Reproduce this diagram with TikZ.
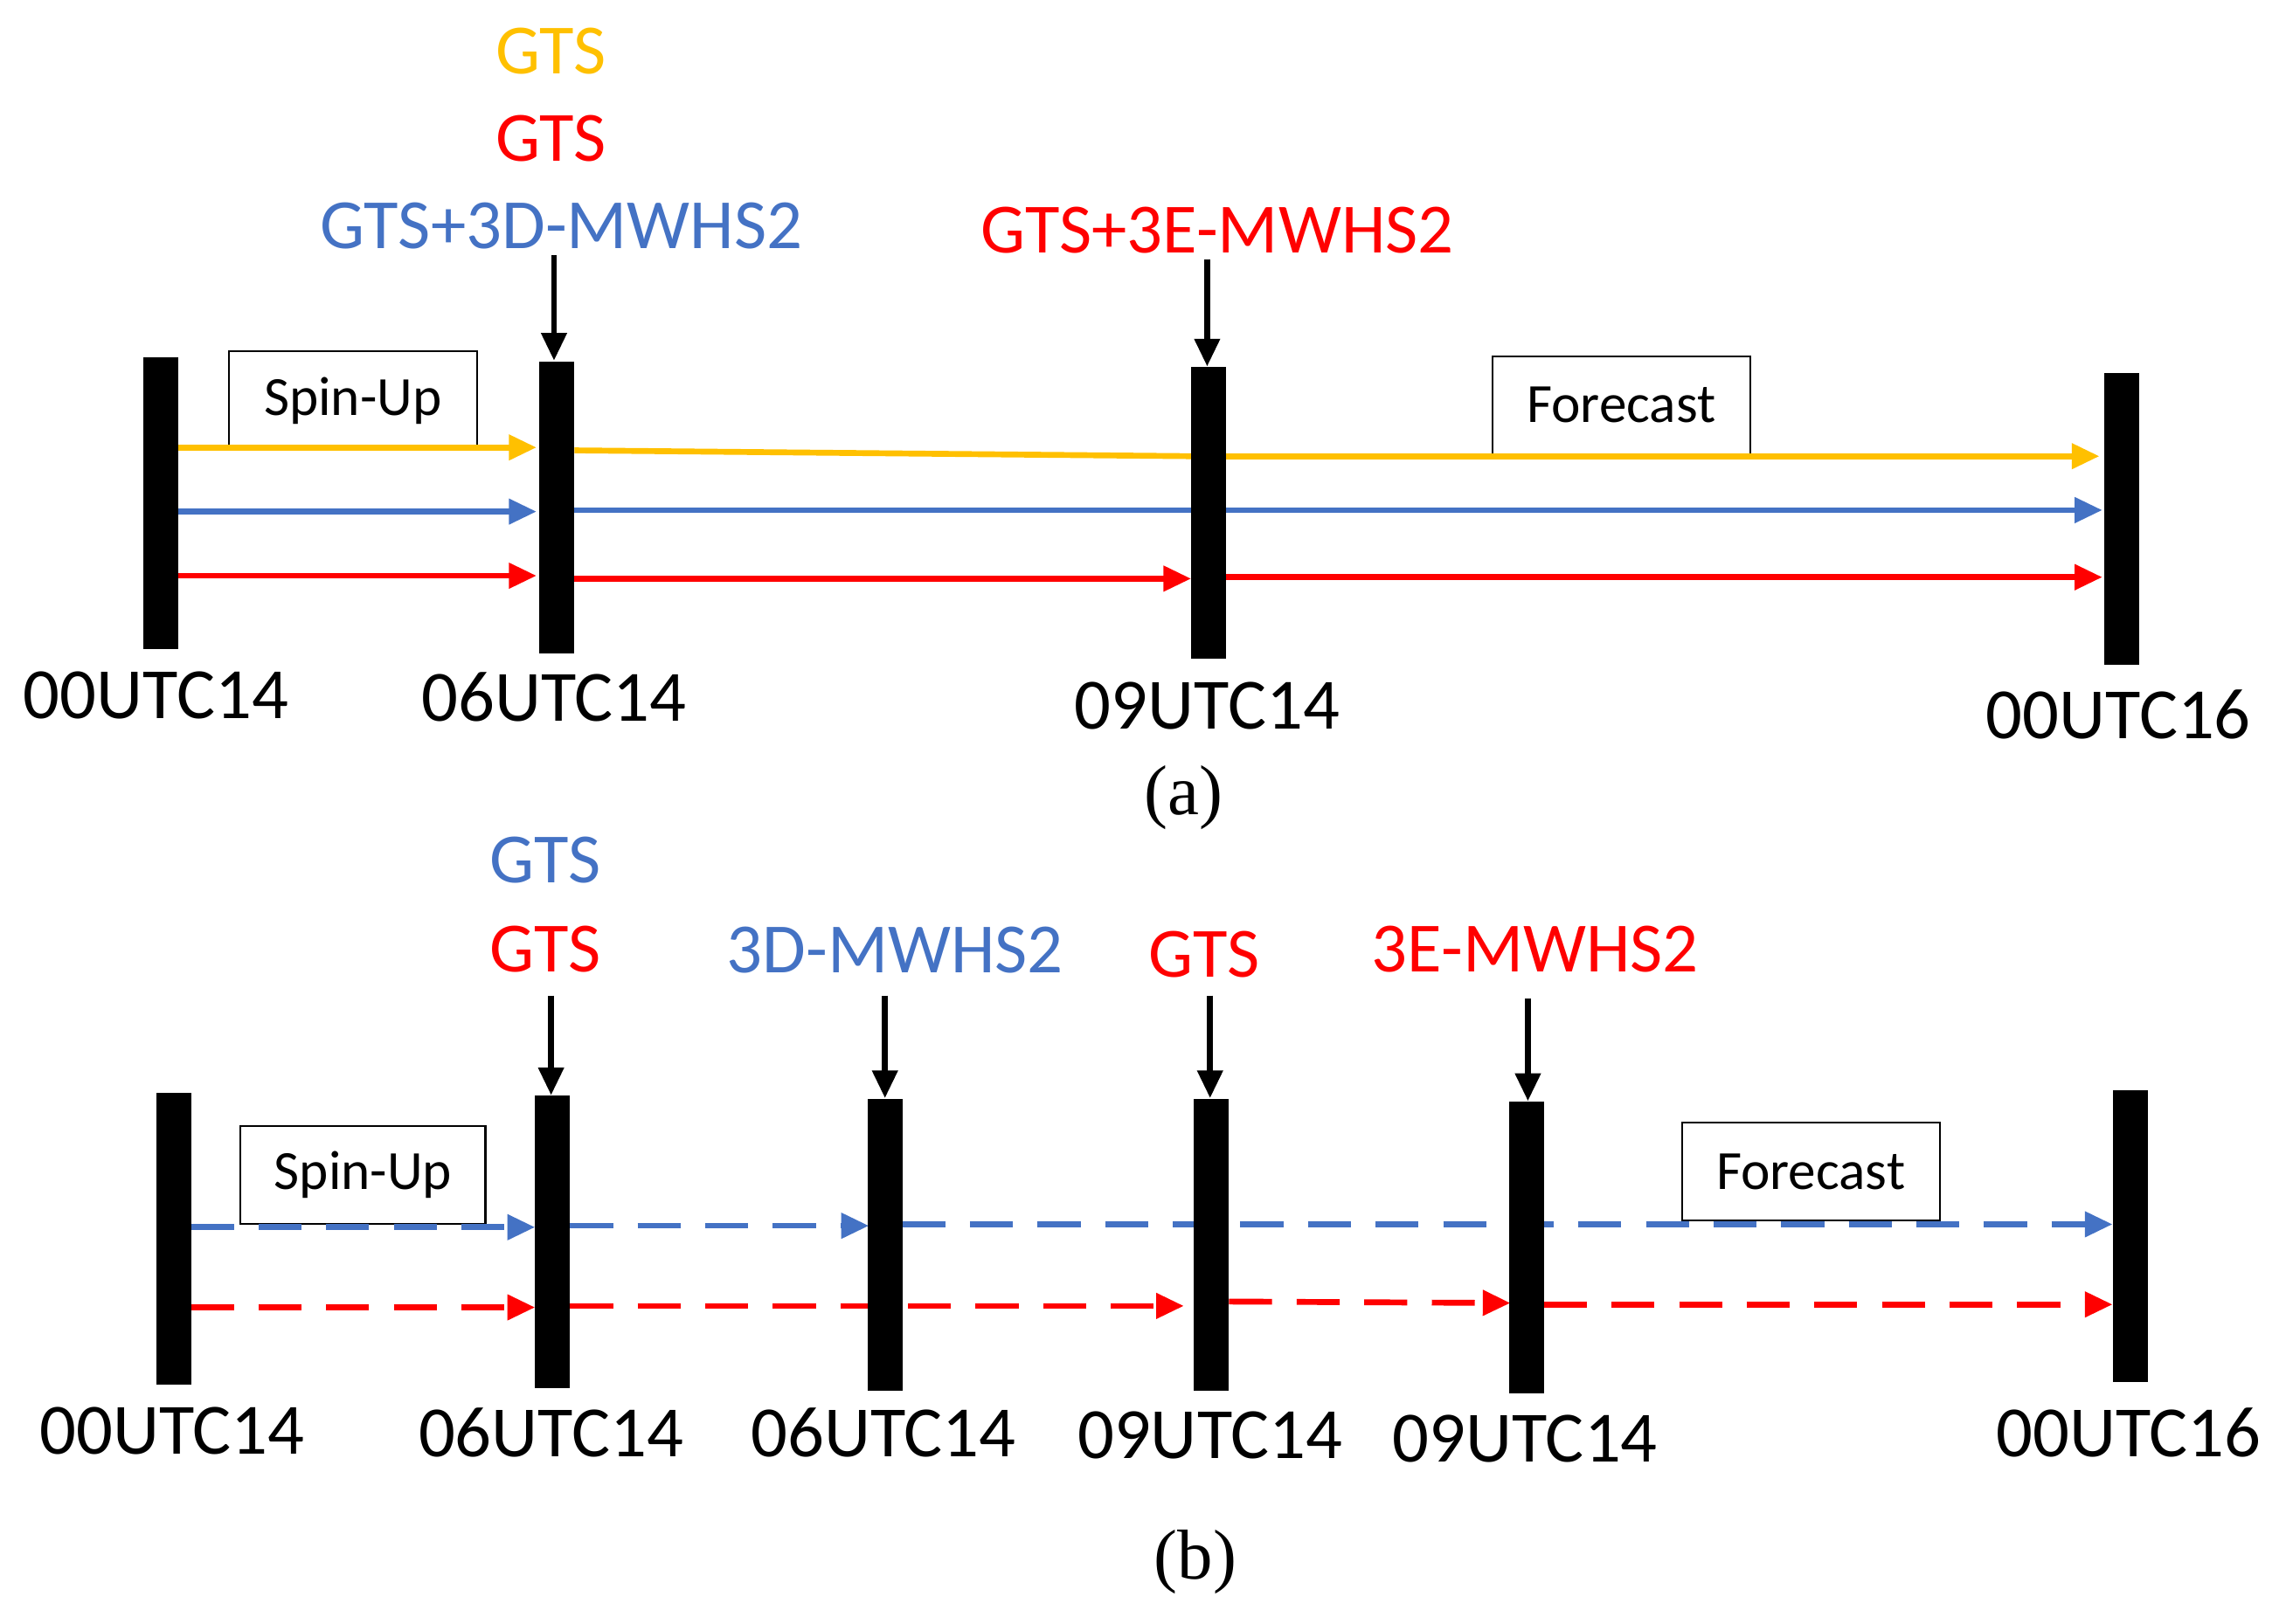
\documentclass[tikz,border=0pt]{standalone}
\usepackage{fontspec}
\setmainfont{Carlito}
\newfontfamily\capfont{Liberation Serif}
\usetikzlibrary{arrows.meta}
\definecolor{cyel}{RGB}{255,192,0}
\definecolor{cblu}{RGB}{68,114,196}
\definecolor{cred}{RGB}{255,0,0}
\tikzset{
  bar/.style={fill=black, draw=none, minimum width=0.4cm, minimum height=3.34cm, inner sep=0pt},
  time/.style={font=\fontsize{23.5}{25}\selectfont},
  tag/.style={font=\fontsize{23}{25}\selectfont},
  box/.style={draw, line width=0.6pt, font=\fontsize{18}{20}\selectfont, inner sep=0pt},
  run/.style={line width=1.9pt, -{Triangle[length=9pt,width=8pt]}},
  dash run/.style={run, dash pattern=on 14pt off 8pt},
  down/.style={line width=1.9pt, -{Triangle[length=9pt,width=8pt]}},
  panel/.style={font=\fontsize{23}{25}\selectfont\capfont}
}
\begin{document}
\begin{tikzpicture}[x=0.01668cm, y=-0.01668cm]
    \useasboundingbox (0,0) rectangle (1568,1114);
    % (a)
    \node[box, minimum width=2.84cm, minimum height=1.13cm] (su1) at (242,275) {Spin-Up};
    \node[box, minimum width=2.95cm, minimum height=1.12cm] (fc1) at (1112,278) {Forecast};
    \draw[run, cyel] (122,307) -- (368,307);
    \draw[line width=1.9pt, cyel] (394,309) -- (817,313);
    \draw[run, cyel] (841,313) -- (1440,313);
    \draw[run, cblu] (122,351) -- (368,351);
    \draw[line width=1.9pt, cblu] (394,350) -- (817,350);
    \draw[run, cblu] (841,350) -- (1442,350);
    \draw[run, cred] (122,395) -- (368,395);
    \draw[run, cred] (394,397) -- (817,397);
    \draw[run, cred] (841,396) -- (1442,396);
    \node[bar] (a1) at (110,345) {};
    \node[bar] (a2) at (382,348) {};
    \node[bar] (a3) at (829,352) {};
    \node[bar] (a4) at (1455,356) {};
    \node[time] at (107,477) {00UTC14};
    \node[time] at (380,478) {06UTC14};
    \node[time] at (828,484) {09UTC14};
    \node[time] at (1453,490) {00UTC16};
    \node[tag, cyel] at (378,35) {GTS};
    \node[tag, cred] at (378,95) {GTS};
    \node[tag, cblu] (ta2) at (385,155) {GTS+3D-MWHS2};
    \node[tag, cred] (ta3) at (835,158) {GTS+3E-MWHS2};
    \coordinate (da2) at (380,175);
    \coordinate (da3) at (828,178);
    \draw[down] (da2) -- (a2.north -| da2);
    \draw[down] (da3) -- (a3.north -| da3);
    \node[panel] at (812,547) {(a)};
    % (b)
    \node[box, minimum width=2.8cm, minimum height=1.12cm] (su2) at (249,806) {Spin-Up};
    \node[box, minimum width=2.95cm, minimum height=1.12cm] (fc2) at (1242,804) {Forecast};
    \draw[dash run, cblu] (131,842) -- (367,842);
    \draw[dash run, cblu] (391,841) -- (596,841);
    \draw[dash run, cblu] (619,840) -- (1449,840);
    \draw[dash run, cred] (131,897) -- (367,897);
    \draw[dash run, cred] (391,896) -- (812,896);
    \draw[dash run, cred] (843,893) -- (1036,894);
    \draw[dash run, cred] (1059,895) -- (1449,895);
    \node[bar] (b1) at (119,850) {};
    \node[bar] (b2) at (379,852) {};
    \node[bar] (b3) at (607,854) {};
    \node[bar] (b4) at (831,854) {};
    \node[bar] (b5) at (1047,856) {};
    \node[bar] (b6) at (1461,848) {};
    \node[time] at (118,982) {00UTC14};
    \node[time] at (378,983) {06UTC14};
    \node[time] at (606,983) {06UTC14};
    \node[time] at (830,985) {09UTC14};
    \node[time] at (1046,987) {09UTC14};
    \node[time] at (1460,983) {00UTC16};
    \node[tag, cblu] at (374,590) {GTS};
    \node[tag, cred] at (374,651) {GTS};
    \node[tag, cblu] at (614,652) {3D-MWHS2};
    \node[tag, cred] at (826,655) {GTS};
    \node[tag, cred] at (1053,651) {3E-MWHS2};
    \coordinate (db2) at (378,683);
    \coordinate (db3) at (607,683);
    \coordinate (db4) at (830,683);
    \coordinate (db5) at (1048,685);
    \foreach \d/\b in {db2/b2, db3/b3, db4/b4, db5/b5}
        \draw[down] (\d) -- (\b.north -| \d);
    \node[panel] at (820,1072) {(b)};
\end{tikzpicture}
\end{document}
